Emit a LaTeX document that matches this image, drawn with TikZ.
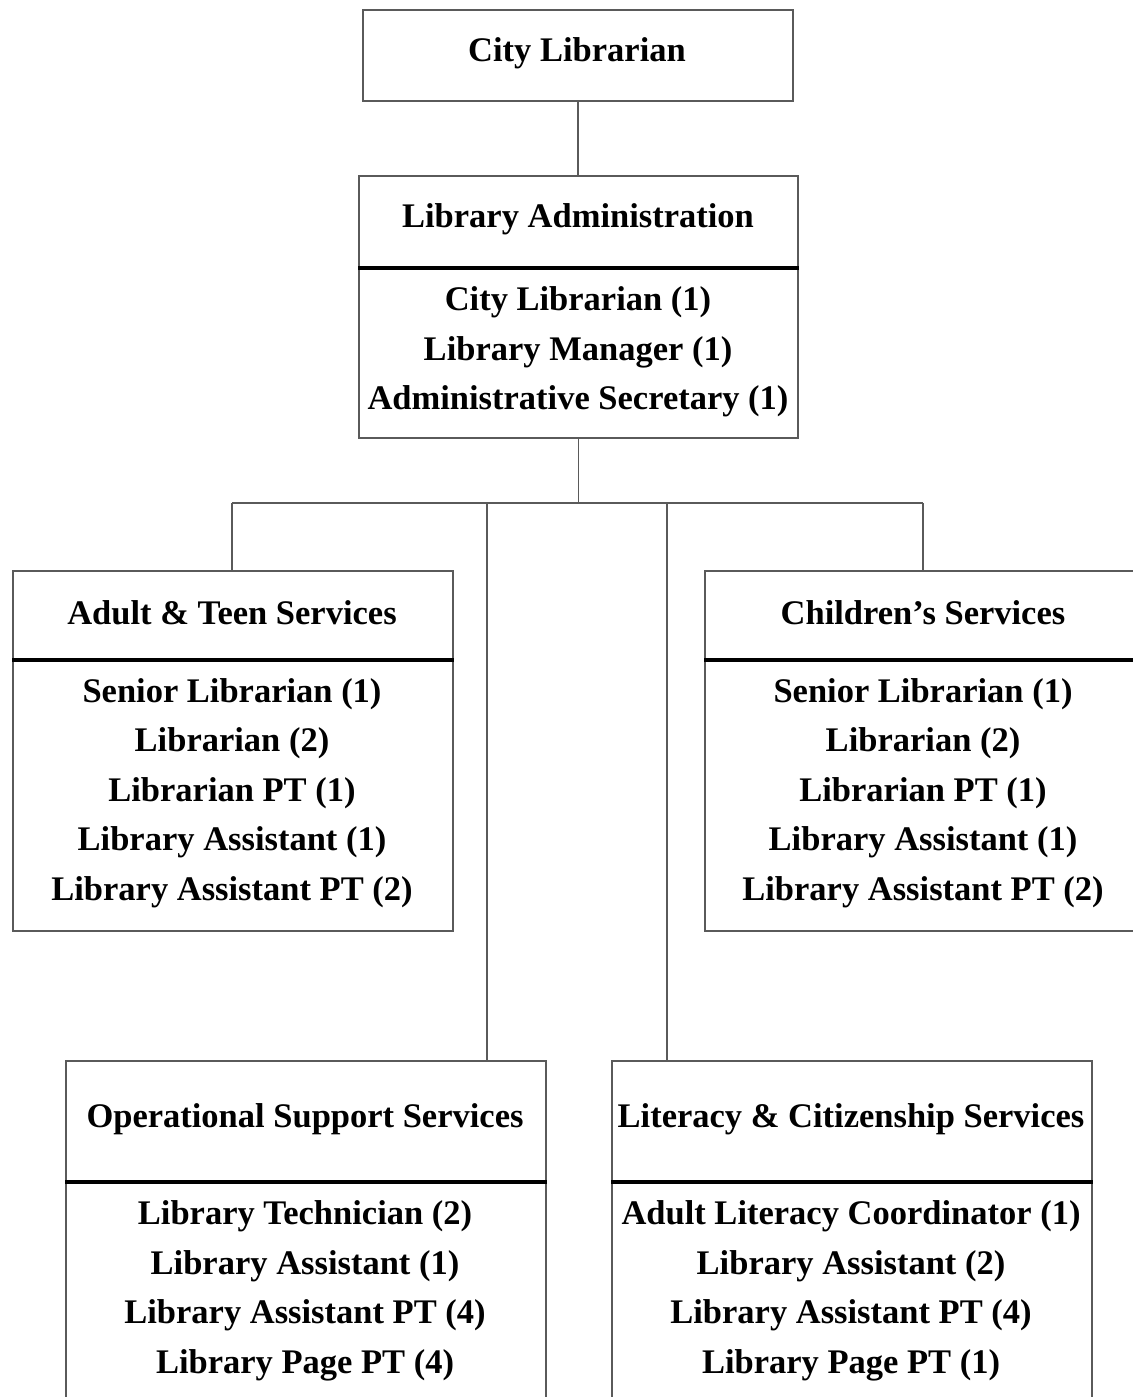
\documentclass[tikz,border=0pt]{standalone}
\usepackage{fontspec}
\setmainfont{Liberation Serif}
\definecolor{linegray}{HTML}{5A5A5A}
\tikzset{
  orgbox/.style={draw=linegray, line width=1pt, inner sep=0pt, anchor=north west},
  lbl/.style={font=\bfseries\fontsize{17.25}{24.75}\selectfont, align=center, inner sep=0pt},
  conn/.style={draw=linegray, line width=0.9pt},
  divider/.style={draw=black, line width=1.6pt}
}
\begin{document}
\begin{tikzpicture}[x=0.5pt,y=-0.5pt]
\useasboundingbox (0,0) rectangle (1133,1397);
\clip (0,0) rectangle (1133,1397);
\fill[white] (0,0) rectangle (1133,1397);

% City Librarian
\node[orgbox, minimum width=215pt, minimum height=45.5pt] (cl) at (362,9) {};
\node[lbl] (clt) at (577,53) {City Librarian};

% Library Administration
\node[orgbox, minimum width=219.5pt, minimum height=131pt] (adm) at (358,175) {};
\coordinate (admdiv) at (358,268);
\draw[divider] (admdiv) -- (admdiv -| adm.east);
\node[lbl] (admt) at (578,219) {Library Administration};
\node[lbl] (admb) at (578,352) {City Librarian (1)\\Library Manager (1)\\Administrative Secretary (1)};

% Adult & Teen
\node[orgbox, minimum width=220pt, minimum height=180pt] (adt) at (12,570) {};
\coordinate (adtdiv) at (12,660);
\draw[divider] (adtdiv) -- (adtdiv -| adt.east);
\node[lbl] (adtt) at (232,613) {Adult \& Teen Services};
\node[lbl] (adtb) at (232,793) {Senior Librarian (1)\\Librarian (2)\\Librarian PT (1)\\Library Assistant (1)\\Library Assistant PT (2)};

% Children's
\node[orgbox, minimum width=220pt, minimum height=180pt] (chl) at (704,570) {};
\coordinate (chldiv) at (704,660);
\draw[divider] (chldiv) -- (chldiv -| chl.east);
\node[lbl] (chlt) at (923,613) {Children’s Services};
\node[lbl] (chlb) at (923,793) {Senior Librarian (1)\\Librarian (2)\\Librarian PT (1)\\Library Assistant (1)\\Library Assistant PT (2)};

% Operational Support
\node[orgbox, minimum width=240pt, minimum height=190pt] (ops) at (65,1060) {};
\coordinate (opsdiv) at (65,1182);
\draw[divider] (opsdiv) -- (opsdiv -| ops.east);
\node[lbl] (opst) at (305,1119) {Operational Support Services};
\node[lbl] (opsb) at (305,1291) {Library Technician (2)\\Library Assistant (1)\\Library Assistant PT (4)\\Library Page PT (4)};

% Literacy & Citizenship
\node[orgbox, minimum width=240pt, minimum height=190pt] (lit) at (611,1060) {};
\coordinate (litdiv) at (611,1182);
\draw[divider] (litdiv) -- (litdiv -| lit.east);
\node[lbl] (litt) at (851,1119) {Literacy \& Citizenship Services};
\node[lbl] (litb) at (851,1291) {Adult Literacy Coordinator (1)\\Library Assistant (2)\\Library Assistant PT (4)\\Library Page PT (1)};

% Connectors
\coordinate (bus) at (578,503);
\coordinate (busL) at (232,503);
\coordinate (busR) at (923,503);
\coordinate (d3) at (487,503);
\coordinate (d4) at (667,503);
\draw[conn] (cl.south) -- (cl.south |- adm.north);
\draw[conn] (adm.south) -- (adm.south |- bus);
\draw[conn] (busL) -- (busR);
\draw[conn] (busL) -- (busL |- adt.north);
\draw[conn] (busR) -- (busR |- chl.north);
\draw[conn] (d3) -- (d3 |- ops.north);
\draw[conn] (d4) -- (d4 |- lit.north);
\end{tikzpicture}
\end{document}
